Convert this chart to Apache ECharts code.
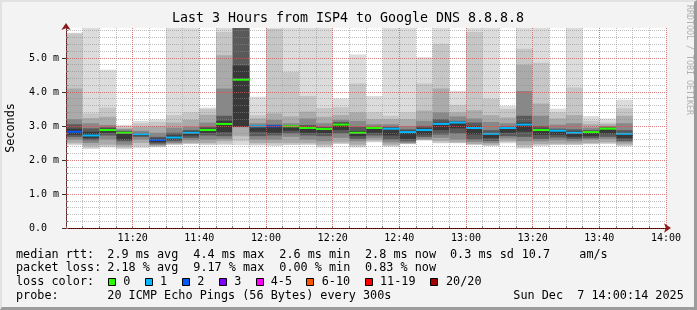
<!DOCTYPE html>
<html><head><meta charset="utf-8">
<script src="https://cdn.jsdelivr.net/npm/echarts@6/dist/echarts.min.js"></script>
<style>
html,body{margin:0;padding:0;background:#f3f3f3;}
#wrap{position:relative;width:697px;height:310px;overflow:hidden;}
#chart{width:697px;height:310px;}
#frame{position:absolute;left:0;top:0;width:697px;height:310px;box-sizing:border-box;border-style:solid;border-width:2px 3px 3px 2px;border-color:#e2e2e2 #9c9c9c #9c9c9c #e2e2e2;pointer-events:none;}
</style></head><body>
<div id="wrap"><div id="chart"></div><div id="frame"></div></div>
<script>
// ---------------- data ----------------
const startTimes = ['11:00','11:05','11:10','11:15','11:20','11:25','11:30','11:35','11:40','11:45','11:50','11:55',
  '12:00','12:05','12:10','12:15','12:20','12:25','12:30','12:35','12:40','12:45','12:50','12:55',
  '13:00','13:05','13:10','13:15','13:20','13:25','13:30','13:35','13:40','13:45'];
const stepMinutes = 5;
// sorted ping envelope per 5-min step (ms): outermost max/min, then inner quantile pairs
const pingMax = [5.74,5.88,4.65,3.03,3.15,3.19,5.88,5.88,3.54,5.88,5.88,3.86,5.88,5.88,5.88,5.88,3.81,5.10,3.88,5.88,5.88,5.02,5.88,4.03,5.88,5.88,3.59,5.88,5.88,3.51,5.88,3.29,3.22,3.77];
const hi2 = [5.72,3.37,3.54,3.00,3.08,3.12,3.32,3.40,3.50,5.76,5.88,3.32,5.85,4.59,3.88,3.53,3.55,4.25,3.40,3.30,3.40,4.25,5.42,3.62,5.76,3.80,3.50,5.27,4.86,3.40,4.13,3.15,3.10,3.52];
const hi3 = [4.10,3.23,3.27,2.93,2.98,3.00,3.10,3.18,3.33,5.08,5.88,3.22,3.37,3.28,3.42,3.27,3.32,3.40,3.20,3.20,3.20,3.45,4.10,3.40,3.46,3.32,3.25,4.80,3.66,3.22,3.32,3.05,3.05,3.30];
const hi4 = [3.20,3.08,3.03,2.90,2.86,2.80,2.95,2.98,3.10,4.10,5.88,3.08,3.18,3.08,3.22,3.08,3.18,3.15,3.05,3.05,3.00,3.15,3.40,3.28,3.22,3.12,3.08,4.03,3.30,3.04,3.08,2.95,3.00,3.08];
const hi5 = [3.05,2.93,2.96,2.85,2.80,2.68,2.80,2.88,2.98,3.30,5.88,3.02,3.04,3.02,3.03,2.98,3.12,2.98,2.98,2.98,2.90,3.00,3.20,3.15,3.10,2.88,2.99,3.30,3.00,2.92,2.90,2.88,2.96,2.88];
const hi6 = [2.92,2.83,2.92,2.83,2.78,2.63,2.72,2.84,2.92,3.15,4.78,3.00,3.01,3.00,2.98,2.94,3.07,2.85,2.96,2.95,2.86,2.93,3.10,3.12,3.00,2.80,2.96,3.10,2.92,2.88,2.84,2.85,2.94,2.80];
const median = [2.83,2.72,2.88,2.80,2.76,2.59,2.66,2.80,2.88,3.06,4.36,2.99,2.99,2.99,2.94,2.91,3.04,2.80,2.94,2.92,2.82,2.88,3.06,3.10,2.94,2.77,2.94,3.04,2.88,2.86,2.80,2.82,2.92,2.77];
const lo6 = [2.74,2.64,2.80,2.60,2.72,2.52,2.60,2.72,2.80,2.82,2.98,2.83,2.80,2.86,2.80,2.79,2.88,2.70,2.80,2.72,2.62,2.75,2.88,2.93,2.75,2.64,2.80,2.83,2.74,2.74,2.68,2.70,2.78,2.64];
const lo5 = [2.68,2.58,2.72,2.55,2.68,2.48,2.55,2.65,2.72,2.70,2.97,2.70,2.72,2.78,2.72,2.70,2.78,2.62,2.72,2.60,2.55,2.68,2.75,2.78,2.60,2.56,2.70,2.68,2.62,2.66,2.62,2.64,2.68,2.56];
const lo4 = [2.60,2.50,2.60,2.45,2.60,2.44,2.50,2.58,2.60,2.62,2.96,2.60,2.60,2.68,2.60,2.55,2.65,2.55,2.64,2.52,2.50,2.62,2.65,2.60,2.53,2.50,2.63,2.55,2.55,2.58,2.55,2.60,2.62,2.52];
const lo3 = [2.51,2.42,2.45,2.40,2.50,2.41,2.47,2.50,2.50,2.55,2.70,2.50,2.50,2.50,2.50,2.45,2.52,2.45,2.58,2.45,2.48,2.59,2.56,2.52,2.47,2.45,2.55,2.43,2.47,2.48,2.48,2.50,2.52,2.46];
const lo2 = [2.46,2.36,2.40,2.35,2.40,2.39,2.45,2.47,2.46,2.48,2.55,2.45,2.45,2.45,2.46,2.40,2.48,2.40,2.54,2.41,2.47,2.58,2.51,2.50,2.45,2.42,2.52,2.37,2.43,2.45,2.45,2.47,2.49,2.42];
const pingMin = [2.43,2.32,2.37,2.32,2.35,2.37,2.44,2.46,2.44,2.44,2.44,2.43,2.41,2.44,2.44,2.37,2.47,2.37,2.52,2.39,2.46,2.57,2.49,2.49,2.44,2.41,2.49,2.34,2.41,2.44,2.44,2.46,2.47,2.40];
const lossCount = [2,1,0,0,1,2,1,1,0,0,0,1,2,0,0,0,0,0,0,1,1,1,1,1,1,1,1,1,0,1,1,0,0,1];

const xTickLabels = ['11:20','11:40','12:00','12:20','12:40','13:00','13:20','13:40','14:00'];
const yTickLabels = ['0.0','1.0 m','2.0 m','3.0 m','4.0 m','5.0 m'];
const lossLegendLabels = ['0','1','2','3','4-5','6-10','11-19','20/20'];
const titleText = 'Last 3 Hours from ISP4 to Google DNS 8.8.8.8';
const rttStats = ['2.9 ms avg','4.4 ms max','2.6 ms min','2.8 ms now','0.3 ms sd','10.7','am/s'];
const lossStats = ['2.18 % avg','9.17 % max','0.00 % min','0.83 % now'];
const probeText = '20 ICMP Echo Pings (56 Bytes) every 300s';
const stampText = 'Sun Dec  7 14:00:14 2025';

// ---------------- style ----------------
const lossColors = ['#26ff00','#00b8ff','#0059ff','#7e00ff','#ff00ff','#ff5500','#ff0000','#a10000'];
const layerColors = ['#dcdcdc','#c6c6c6','#aaaaaa','#888888','#5a5a5a','#383838'];
const MONO = '"DejaVu Sans Mono", monospace';
const minorGrid = 'rgba(140,140,140,0.55)';
const majorGrid = 'rgba(240,60,60,0.5)';

function toMin(t){ const p = t.split(':'); return (+p[0]-11)*60 + (+p[1]); }
function lossIdx(n){ if(n<=3) return n; if(n<=5) return 4; if(n<=10) return 5; if(n<=19) return 6; return 7; }

const smokeData = startTimes.map((t,i)=>{
  const m = toMin(t);
  return [m, m+stepMinutes, pingMin[i], pingMax[i], lo2[i], hi2[i], lo3[i], hi3[i], lo4[i], hi4[i], lo5[i], hi5[i], lo6[i], hi6[i], median[i], lossCount[i]];
});

function renderSmoke(params, api){
  const cs = params.coordSys;
  const clip = {x:cs.x, y:cs.y, width:cs.width, height:cs.height};
  const t0 = api.value(0), t1 = api.value(1);
  const children = [];
  for(let k=0;k<6;k++){
    const lo = api.value(2+2*k), hi = api.value(3+2*k);
    const a = api.coord([t0, hi]), b = api.coord([t1, lo]);
    const r = echarts.graphic.clipRectByRect({x:a[0], y:a[1], width:b[0]-a[0], height:b[1]-a[1]}, clip);
    if(r) children.push({type:'rect', shape:r, style:{fill:layerColors[k]}});
  }
  const med = api.value(14);
  const a = api.coord([t0, med]), b = api.coord([t1, med]);
  children.push({type:'rect', shape:{x:a[0], y:a[1]-1, width:b[0]-a[0], height:2}, style:{fill:lossColors[lossIdx(api.value(15))]}});
  return {type:'group', children};
}

// ---------------- text graphics ----------------
const FS = 11.8;
function txt(x,y,s,extra){ return Object.assign({type:'text', x:x, y:y, silent:true, style:{text:s, font: FS+'px '+MONO, fill:'#000', verticalAlign:'middle', align:'left'}}, extra||{}); }
const graphics = [];
graphics.push({type:'text', x:348, y:18.7, silent:true, style:{text:titleText, font:'13.3px '+MONO, fill:'#000', align:'center', verticalAlign:'middle'}});
graphics.push({type:'text', x:10.5, y:128, rotation:Math.PI/2, silent:true, style:{text:'Seconds', font: FS+'px '+MONO, fill:'#000', align:'center', verticalAlign:'middle'}});
graphics.push({type:'text', x:689, y:60, rotation:-Math.PI/2, silent:true, style:{text:'RRDTOOL / TOBI OETIKER', font:'8.3px '+MONO, fill:'#b0b0b0', align:'center', verticalAlign:'middle'}});
const row1 = 255, row2 = 268.3, row3 = 282.3, row4 = 296;
graphics.push(txt(16,row1,'median rtt:'));
[107.3,193.3,279.3,365,450,521.7,579.3].forEach((x,i)=>graphics.push(txt(x,row1,rttStats[i])));
graphics.push(txt(16,row2,'packet loss:'));
[107.3,193.3,279.3,365].forEach((x,i)=>graphics.push(txt(x,row2,lossStats[i])));
graphics.push(txt(16,row3,'loss color:'));
const boxX = [108.5,145.5,182.5,219.5,256.5,306.5,365.5,430.5];
const lblX = [123.3,160,197.3,234.3,270.7,321.7,380,446];
lossLegendLabels.forEach((l,i)=>{
  graphics.push({type:'rect', silent:true, shape:{x:boxX[i], y:278.5, width:7, height:7}, style:{fill:lossColors[i], stroke:'#000', lineWidth:1}});
  graphics.push(txt(lblX[i],row3,l));
});
graphics.push(txt(16,row4,'probe:'));
graphics.push(txt(107.3,row4,probeText));
graphics.push(txt(513.3,row4,stampText));

// ---------------- chart ----------------
const XMAX = 180, YMAX = 5.88;
const chart = echarts.init(document.getElementById('chart'), null, {renderer:'canvas'});
chart.setOption({
  animation:false,
  backgroundColor:'#f3f3f3',
  grid:{left:66, right:31, top:28, bottom:82, show:true, backgroundColor:'#ffffff', borderWidth:0},
  xAxis:[
    {type:'value', min:0, max:XMAX, interval:5, position:'bottom', z:3,
     axisLine:{show:true, onZero:false, lineStyle:{color:'#000', width:1}},
     axisTick:{show:true, inside:true, length:2, lineStyle:{color:'#777'}},
     axisLabel:{show:false},
     splitLine:{show:true, lineStyle:{color:minorGrid, width:1, type:[1,1]}}},
    {type:'value', min:0, max:XMAX, interval:20, position:'bottom', z:4,
     axisLine:{show:false}, axisTick:{show:false},
     axisLabel:{show:true, margin:5, fontFamily:MONO, fontSize:10, color:'#000',
       formatter:(v)=>{ const k = Math.round(v/20); return (k>=1 && Math.abs(v-k*20)<1e-6) ? xTickLabels[k-1] : ''; }},
     splitLine:{show:true, lineStyle:{color:majorGrid, width:1, type:[1,1]}}},
    {type:'value', min:0, max:XMAX, position:'bottom', z:5,
     axisLine:{show:true, onZero:false, symbol:['none','arrow'], symbolSize:[7,7], symbolOffset:[0,5], lineStyle:{color:'#8b1a1a', width:0.01}},
     axisTick:{show:false}, axisLabel:{show:false}, splitLine:{show:false}}
  ],
  yAxis:[
    {type:'value', min:0, max:YMAX, interval:0.2, position:'left', z:3,
     axisLine:{show:true, onZero:false, lineStyle:{color:'#333', width:1}},
     axisTick:{show:true, inside:true, length:2, lineStyle:{color:'#777'}},
     axisLabel:{show:false},
     splitLine:{show:true, showMaxLine:false, lineStyle:{color:minorGrid, width:1, type:[1,1]}}},
    {type:'value', min:0, max:YMAX, interval:1, position:'left', z:4,
     axisLine:{show:false},
     axisTick:{show:true, length:4, lineStyle:{color:'#333'}},
     axisLabel:{show:true, align:'left', margin:37, fontFamily:MONO, fontSize:10, color:'#000',
       showMaxLabel:false,
       formatter:(v)=>{ const k = Math.round(v); return (Math.abs(v-k)<1e-6 && k<yTickLabels.length) ? yTickLabels[k] : ''; }},
     splitLine:{show:true, showMaxLine:false, lineStyle:{color:majorGrid, width:1, type:[1,1]}}},
    {type:'value', min:0, max:YMAX, position:'left', z:5,
     axisLine:{show:true, onZero:false, symbol:['none','arrow'], symbolSize:[7,7], symbolOffset:[0,5], lineStyle:{color:'#8b1a1a', width:0.01}},
     axisTick:{show:false}, axisLabel:{show:false}, splitLine:{show:false}}
  ],
  series:[{
    type:'custom', xAxisIndex:0, yAxisIndex:0, z:2, clip:true,
    renderItem: renderSmoke,
    encode:{x:[0,1], y:[2,3]},
    data: smokeData
  }],
  graphic: graphics
});
</script>
</body></html>
